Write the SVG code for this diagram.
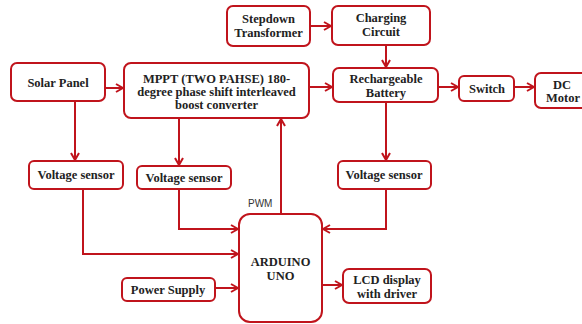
<svg xmlns="http://www.w3.org/2000/svg" width="582" height="324" viewBox="0 0 582 324">
<defs>
<style>
.box{fill:#fff;stroke:#c0141c;stroke-width:2}
.ln{fill:none;stroke:#c0141c;stroke-width:2}
.t{font-family:"Liberation Serif",serif;font-weight:bold;font-size:12.5px;fill:#222;text-anchor:middle}
.s{font-family:"Liberation Sans",sans-serif;font-size:10px;fill:#333}
</style>
<marker id="ah" viewBox="0 0 10 10" refX="9" refY="5" markerWidth="10" markerHeight="10" markerUnits="userSpaceOnUse" orient="auto">
<path d="M2,1 L9,5 L2,9" fill="none" stroke="#c0141c" stroke-width="2"/>
</marker>
</defs>
<rect width="582" height="324" fill="#fff"/>
<g id="connectors">
<path class="ln" d="M310,26 H331" marker-end="url(#ah)"/>
<path class="ln" d="M386,45 V67" marker-end="url(#ah)"/>
<path class="ln" d="M105,88 H123" marker-end="url(#ah)"/>
<path class="ln" d="M309,87 H332" marker-end="url(#ah)"/>
<path class="ln" d="M438,87 H458" marker-end="url(#ah)"/>
<path class="ln" d="M514,87 H534" marker-end="url(#ah)"/>
<path class="ln" d="M75,101 V160" marker-end="url(#ah)"/>
<path class="ln" d="M179,118 V165" marker-end="url(#ah)"/>
<path class="ln" d="M386,102 V160" marker-end="url(#ah)"/>
<path class="ln" d="M281,214 V119" marker-end="url(#ah)"/>
<path class="ln" d="M179,189 V229 H238" marker-end="url(#ah)"/>
<path class="ln" d="M83,189 V254 H238" marker-end="url(#ah)"/>
<path class="ln" d="M386,189 V229 H323" marker-end="url(#ah)"/>
<path class="ln" d="M215,288 H238" marker-end="url(#ah)"/>
<path class="ln" d="M322,285 H342" marker-end="url(#ah)"/>
<text class="s" x="248" y="207">PWM</text>
</g>
<g id="stepdown"><rect class="box" x="227" y="6" width="83" height="40" rx="6"/><text class="t" x="268.5" y="23">Stepdown</text><text class="t" x="268.5" y="37">Transformer</text></g>
<g id="charging"><rect class="box" x="332" y="6" width="98" height="39" rx="6"/><text class="t" x="381" y="22">Charging</text><text class="t" x="381" y="36">Circuit</text></g>
<g id="solar"><rect class="box" x="11" y="63" width="94" height="38" rx="6"/><text class="t" x="58" y="87">Solar Panel</text></g>
<g id="mppt"><rect class="box" x="124" y="63" width="185" height="55" rx="7"/><text class="t" x="216.5" y="83">MPPT (TWO PAHSE) 180-</text><text class="t" x="216.5" y="96">degree phase shift interleaved</text><text class="t" x="216.5" y="109">boost converter</text></g>
<g id="battery"><rect class="box" x="333" y="68" width="105" height="34" rx="6"/><text class="t" x="386" y="83">Rechargeable</text><text class="t" x="386" y="97">Battery</text></g>
<g id="switch"><rect class="box" x="459" y="76" width="55" height="25" rx="5"/><text class="t" x="487" y="93">Switch</text></g>
<g id="dcmotor"><rect class="box" x="535" y="73" width="60" height="35" rx="6"/><text class="t" x="562" y="89">DC</text><text class="t" x="563" y="102">Motor</text></g>
<g id="vs1"><rect class="box" x="29" y="161" width="94" height="28" rx="5"/><text class="t" x="76" y="179">Voltage sensor</text></g>
<g id="vs2"><rect class="box" x="137" y="166" width="94" height="23" rx="5"/><text class="t" x="184" y="182">Voltage sensor</text></g>
<g id="vs3"><rect class="box" x="338" y="161" width="93" height="28" rx="5"/><text class="t" x="384" y="179">Voltage sensor</text></g>
<g id="arduino"><rect class="box" x="239" y="214" width="83" height="108" rx="11"/><text class="t" x="280.5" y="266">ARDUINO</text><text class="t" x="280.5" y="280">UNO</text></g>
<g id="power"><rect class="box" x="122" y="278" width="93" height="23" rx="5"/><text class="t" x="168" y="294">Power Supply</text></g>
<g id="lcd"><rect class="box" x="343" y="269" width="88" height="34" rx="6"/><text class="t" x="387" y="284">LCD display</text><text class="t" x="387" y="298">with driver</text></g>
</svg>
